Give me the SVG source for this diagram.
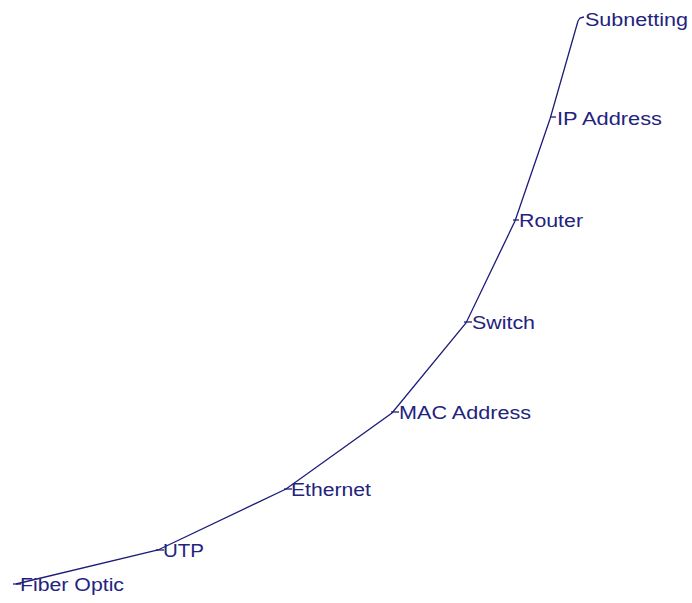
<svg xmlns="http://www.w3.org/2000/svg" width="692" height="603" viewBox="0 0 692 603">
<style>
.lbl{font-family:"Liberation Sans",Arial,sans-serif;font-size:18px;fill:#23237e}
.tick{stroke:#1c1c78;stroke-width:1.3;fill:none}
.edge{stroke:#1c1c78;stroke-width:1.3;fill:none}
</style>
<rect width="692" height="603" fill="#ffffff"/>
<g id="connectors">
<polyline class="edge" points="16,584 158,550 286,489 392,413 466,323 515,221 550,119 578,21"/>
</g>
<g id="n-subnetting"><path class="tick" d="M578,21 L580,18 L584,17"/><text class="lbl" x="585" y="26" textLength="103" lengthAdjust="spacingAndGlyphs">Subnetting</text></g>
<g id="n-ip"><path class="tick" d="M550,117 L556,117"/><text class="lbl" x="557" y="125" textLength="105" lengthAdjust="spacingAndGlyphs">IP Address</text></g>
<g id="n-router"><path class="tick" d="M513,220 L519,220"/><text class="lbl" x="519" y="227" textLength="64" lengthAdjust="spacingAndGlyphs">Router</text></g>
<g id="n-switch"><path class="tick" d="M464,322 L472,322"/><text class="lbl" x="472" y="329" textLength="63" lengthAdjust="spacingAndGlyphs">Switch</text></g>
<g id="n-mac"><path class="tick" d="M391,412 L399,412"/><text class="lbl" x="399" y="419" textLength="132" lengthAdjust="spacingAndGlyphs">MAC Address</text></g>
<g id="n-ethernet"><path class="tick" d="M284,489 L292,489"/><text class="lbl" x="291" y="496" textLength="80" lengthAdjust="spacingAndGlyphs">Ethernet</text></g>
<g id="n-utp"><path class="tick" d="M156,550 L164,550"/><text class="lbl" x="163" y="557" textLength="41" lengthAdjust="spacingAndGlyphs">UTP</text></g>
<g id="n-fiber"><path class="tick" d="M13,584 L21,584"/><text class="lbl" x="20" y="591" textLength="104" lengthAdjust="spacingAndGlyphs">Fiber Optic</text></g>
</svg>
